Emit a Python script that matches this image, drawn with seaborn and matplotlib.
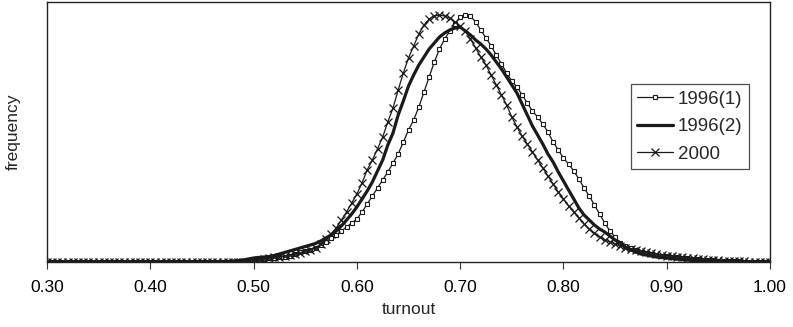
import numpy as np
import pandas as pd
import matplotlib
matplotlib.use("Agg")
import matplotlib.pyplot as plt
import seaborn as sns

# turnout grid, 0.30 .. 1.00 in steps of 0.005
turnout = np.round(np.arange(0.30, 1.0001, 0.005), 3)

# values below 0.50 are flat on the baseline
low_1996_1 = [0] * 36 + [0, 0.5, 0.5, 0.5]
low_1996_2 = [0] * 34 + [0.5, 0.5, 1, 1.5, 2, 3]
low_2000 = [0] * 36 + [0, 0.5, 0.5, 0.5]

freq_1996_1 = low_1996_1 + [
    1, 2, 3, 4, 4.5, 5, 5.5, 6.5, 8, 10,                        # 0.50
    11, 12.5, 14, 17, 20, 24, 27, 31, 35, 39,                   # 0.55
    43, 50, 58, 66, 74, 82, 90, 99, 108, 120,                   # 0.60
    132, 142, 155, 170, 185, 200, 213, 223, 231, 238,           # 0.65
    245, 247, 246, 240, 232, 224, 216, 207, 198, 189,           # 0.70
    181, 175, 167, 159, 151, 145, 138, 130, 120, 112,           # 0.75
    104, 98, 91, 83, 74, 66, 57, 48, 39, 31,                    # 0.80
    25, 19, 16, 14, 12, 10.5, 9, 8, 7, 6.5,                     # 0.85
    6, 5.5, 5, 4.5, 4, 3.5, 3, 2.5, 2, 2,                       # 0.90
    1.5, 1.5, 1, 1, 1, 0.5, 0.5, 0.5, 0, 0,                     # 0.95
    0,                                                          # 1.00
]

freq_1996_2 = low_1996_2 + [
    4, 4.5, 5, 5.5, 6.5, 8, 9.5, 11, 12.5, 14,                  # 0.50
    15.5, 17, 18.5, 21, 24, 27, 31, 36, 42, 48,                 # 0.55
    55, 63, 71, 80, 91, 102, 117, 129, 147, 161,                # 0.60
    176, 187, 197, 205, 213, 219, 225, 229, 232, 234,           # 0.65
    235, 231, 227, 222, 218, 213, 207, 200, 193, 185,           # 0.70
    177, 169, 158, 147, 136, 127, 118, 108, 100, 90,            # 0.75
    81, 72, 63, 54, 47, 42, 37, 33, 30, 26,                     # 0.80
    22, 19, 15, 12, 10, 8, 7, 6, 5, 4.5,                        # 0.85
    4, 3.5, 3, 2.5, 2, 1.5, 1.5, 1, 1, 1,                       # 0.90
    0.5, 0.5, 0.5, 0.5, 0, 0, 0, 0, 0, 0,                       # 0.95
    0,                                                          # 1.00
]

freq_2000 = low_2000 + [
    1, 2, 3, 4, 5, 5.5, 6, 7, 8, 9,                             # 0.50
    11, 12, 14, 18, 23, 28, 34, 42, 50, 59,                     # 0.55
    68, 79, 92, 102, 113, 125, 140, 154, 172, 189,              # 0.60
    204, 216, 228, 237, 243, 246, 247, 246, 244, 240,           # 0.65
    236, 231, 223, 214, 205, 197, 187, 177, 167, 157,           # 0.70
    145, 135, 126, 118, 110, 102, 94, 86, 78, 70,               # 0.75
    63, 56, 50, 44, 38, 33, 29, 25, 22, 20,                     # 0.80
    18, 16, 14.5, 13, 12, 11, 10, 9, 8, 7,                      # 0.85
    6.5, 6, 5.5, 5, 4.5, 4, 3.5, 3, 2.5, 2,                     # 0.90
    2, 1.5, 1.5, 1, 1, 1, 0.5, 0.5, 0.5, 0,                     # 0.95
    0,                                                          # 1.00
]

x_ticks = [0.30, 0.40, 0.50, 0.60, 0.70, 0.80, 0.90, 1.00]

sns.set_style("ticks")
plt.rcParams['font.family'] = ['Liberation Sans', 'DejaVu Sans']

fig = plt.figure(figsize=(7.93, 3.27), dpi=100)
ax = fig.add_axes([47 / 793, 1 - 262 / 327, (770 - 47) / 793, 260 / 327])

ink = '#1a1a1a'
sns.lineplot(x=turnout, y=freq_1996_1, ax=ax, color=ink, lw=0.9,
             marker='s', markersize=3.2, markerfacecolor='white',
             markeredgecolor=ink, markeredgewidth=0.8, label='1996(1)')
sns.lineplot(x=turnout, y=freq_1996_2, ax=ax, color=ink, lw=2.3,
             label='1996(2)')
sns.lineplot(x=turnout, y=freq_2000, ax=ax, color=ink, lw=0.9,
             marker='x', markersize=5.5, markeredgecolor=ink,
             markeredgewidth=0.9, label='2000')

ax.set_xlim(0.30, 1.00)
ax.set_ylim(0, 260)
ax.set_xticks(x_ticks)
ax.set_xticklabels([f'{t:.2f}' for t in x_ticks], fontsize=12.5)
ax.set_yticks([])
ax.tick_params(axis='x', direction='out', length=5, width=0.8, colors='#333333',
               labelcolor='black', pad=8)
for s in ax.spines.values():
    s.set_visible(True)
    s.set_color('#222222')
    s.set_linewidth(1.0)

ax.set_xlabel('turnout', fontsize=12.5, labelpad=5)
ax.set_ylabel('frequency', fontsize=12.5, labelpad=19)

leg = ax.legend(loc='upper right', fontsize=13.5, frameon=True,
                fancybox=False, edgecolor='#222222', handlelength=1.9,
                handletextpad=0.27, borderpad=0.35, labelspacing=0.55,
                borderaxespad=0)
leg.get_frame().set_linewidth(0.9)
leg.set_bbox_to_anchor(((749 - 47) / 723, 1 - 82 / 260), transform=ax.transAxes)

fig.savefig('out.png', dpi=100)
